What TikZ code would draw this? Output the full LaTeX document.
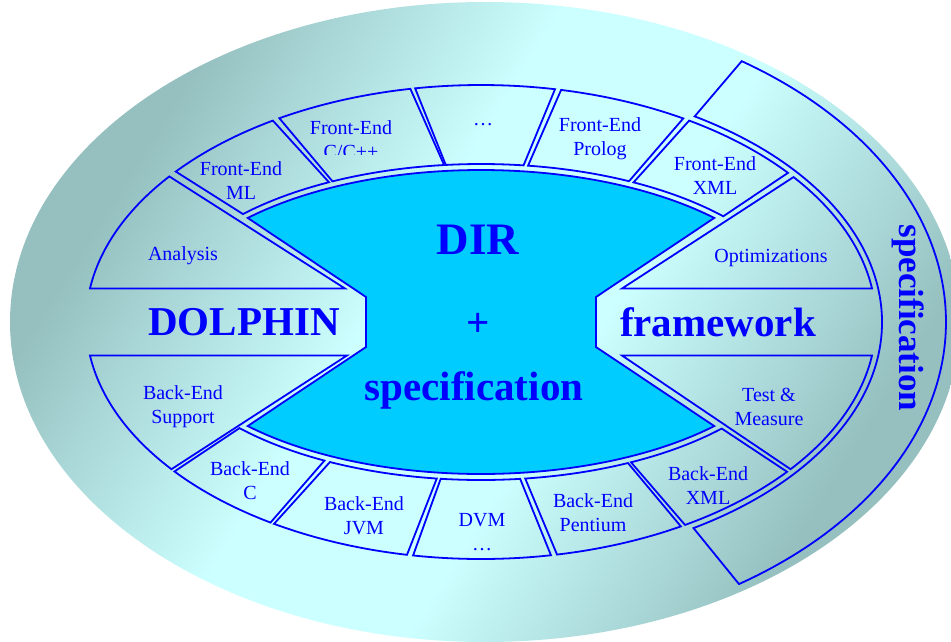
\documentclass[tikz,border=0pt]{standalone}
\usepackage{fontspec}
\setmainfont{Liberation Serif}
\usepackage{tikz}

\definecolor{dolblue}{RGB}{0,0,255}
\definecolor{dircyan}{RGB}{0,204,255}
\definecolor{tealdark}{RGB}{150,192,192}
\definecolor{teallight}{RGB}{204,255,255}

\pgfdeclareverticalshading{discshade}{100bp}{color(0bp)=(tealdark); color(27bp)=(tealdark);
  color(44bp)=(teallight); color(56bp)=(teallight); color(73bp)=(tealdark); color(100bp)=(tealdark)}

\tikzset{
  ringseg/.style={draw=dolblue, line width=1.8pt},
  lbl/.style={text=dolblue, align=center, inner sep=0pt, font=\fontsize{20}{24}\selectfont},
  biglbl/.style={text=dolblue, inner sep=0pt, font=\fontsize{41}{48}\selectfont\bfseries},
}

\begin{document}
\begin{tikzpicture}[x=1pt, y=-1pt]
    \useasboundingbox (0,0) rectangle (951,641);

    % Background disc
    \shade[shading=discshade, shading angle=58] (485,322) ellipse [x radius=475, y radius=320];

    \begin{scope}[shift={(481,322)}]
        % Specification band on the right
        \draw[ringseg] (-55.9:465 and 315) -- (-57.8:401 and 243)
            arc[start angle=-57.8, end angle=58, x radius=401, y radius=243]
            -- (56.3:465 and 315)
            arc[start angle=56.3, end angle=-55.9, x radius=465, y radius=315] -- cycle;

        % DIR core
        \filldraw[ringseg, fill=dircyan] (-136.8:320 and 152)
            arc[start angle=-136.8, end angle=-43.2, x radius=320, y radius=152]
            -- (115,-25) -- (115,25) -- (43.2:320 and 152)
            arc[start angle=43.2, end angle=136.8, x radius=320, y radius=152]
            -- (-115,25) -- (-115,-25) -- cycle;

        % Front-ends (top) and back-ends (bottom)
        \foreach \oa/\ob/\ia/\ib in {-140.6/-121.8/-117.8/-136.9, -120.7/-100.3/-96.5/-117.1,
                                     -99.6/-79.2/-82.5/-96.2, -78.3/-59.2/-63.0/-81.7,
                                     -58.2/-39.0/-42.0/-62.1,
                                     140.9/122.2/118.7/137.8, 121.6/100.8/97.8/117.6,
                                     99.9/79.8/83.1/97.1, 78.9/59.6/63.2/82.2,
                                     58.9/39.2/42.4/62.6} {
            \draw[ringseg] (\oa:395 and 237)
                arc[start angle=\oa, end angle=\ob, x radius=395, y radius=237]
                -- (\ia:326 and 158)
                arc[start angle=\ia, end angle=\ib, x radius=326, y radius=158] -- cycle;
        }

        % Side boxes
        \draw[ringseg] (-142.1:395 and 237) -- (-136,-33.5) -- (-171.87:395 and 237)
            arc[start angle=-171.87, end angle=-142.1, x radius=395, y radius=237] -- cycle;
        \draw[ringseg] (-37.7:395 and 237) -- (141,-33.5) -- (-8.13:395 and 237)
            arc[start angle=-8.13, end angle=-37.7, x radius=395, y radius=237] -- cycle;
        \draw[ringseg] (-134,33.5) -- (141.6:395 and 237)
            arc[start angle=141.6, end angle=171.87, x radius=395, y radius=237] -- cycle;
        \draw[ringseg] (141,33.5) -- (8.13:395 and 237)
            arc[start angle=8.13, end angle=38.4, x radius=395, y radius=237] -- cycle;
    \end{scope}

    % Labels of the ring
    \foreach \nm/\x/\y/\txt in {feml/241/181/{Front-End\\ML}, feprolog/600/139/{Front-End\\Prolog},
                                fexml/715/176/{Front-End\\XML}, analysis/183/256/{Analysis},
                                optim/771/258/{Optimizations}, besupport/183/407/{Back-End\\Support},
                                testm/769/407/{Test \&\\Measure}, bec/250/481/{Back-End\\C},
                                bejvm/364/516/{Back-End\\JVM}, dvm/482/532/{DVM\\…},
                                bepent/593/513/{Back-End\\Pentium}, bexml/708/486/{Back-End\\XML}} {
        \node[lbl] (\nm) at (\x,\y) {\txt};
    }
    \node[lbl] (fedots) at (483,125) {…};
    \begin{scope}
        \clip (300,100) rectangle (410,154);
        \node[lbl] (fecpp) at (351,140) {Front-End\\C/C++};
    \end{scope}

    % Big words
    \node[biglbl] (dolphin) at (244,322) {DOLPHIN};
    \node[biglbl] (framework) at (718,322) {framework};
    \node[biglbl, font=\fontsize{45}{52}\selectfont\bfseries] (dir) at (478,240) {DIR};
    \node[biglbl] (plus) at (478,325) {+};
    \node[biglbl] (spec) at (474,390) {specification};
    \node[biglbl, font=\fontsize{35}{40}\selectfont\bfseries, rotate=-90] (specband) at (908,318) {specification};
\end{tikzpicture}
\end{document}
